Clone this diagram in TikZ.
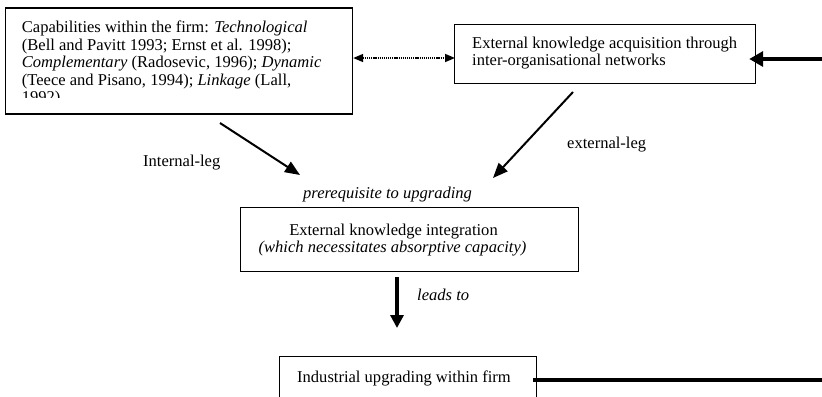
\documentclass[tikz,border=0pt]{standalone}
\usepackage{fontspec}
\setmainfont{Liberation Serif}
\usetikzlibrary{arrows.meta}
\begin{document}
\begin{tikzpicture}[x=1bp,y=-1bp,
  box/.style={draw, line width=1.2bp, inner sep=0pt, anchor=north west},
  txt/.style={inner sep=0pt, font=\fontsize{16.6}{17.6}\selectfont},
  legarrow/.style={line width=2bp, -{Triangle[length=15bp,width=12bp]}},
  downarrow/.style={line width=3.3bp, -{Triangle[length=13bp,width=13bp]}},
  heavyarrow/.style={line width=4.5bp, -{Triangle[length=14bp,width=15bp]}},
  heavyline/.style={line width=4.5bp},
  dotarrow/.style={line width=1.6bp, dash pattern=on 1.2bp off 0.9bp,
    {Triangle[length=10bp,width=8bp]}-{Triangle[length=10bp,width=8bp]}}]
\useasboundingbox (0,0) rectangle (822,396);
\clip (0,0) rectangle (822,396);

% boxes
\node[box, minimum width=347bp, minimum height=106bp] (cap) at (5,7.3) {};
\node[box, minimum width=301bp, minimum height=59bp] (acq) at (454,24) {};
\node[box, minimum width=338bp, minimum height=64bp] (integ) at (240,207) {};
\node[box, minimum width=257bp, minimum height=80bp] (ind) at (279,356) {};

% box 1 text (clipped at bottom)
\begin{scope}
\clip (5,7) rectangle (352,97);
\node[txt, anchor=north west, align=left] (captext) at (21.7,21) {Capabilities within the firm: \textit{Technological}\\
(Bell and Pavitt 1993; Ernst et al. 1998);\\
\textit{Complementary} (Radosevic, 1996); \textit{Dynamic}\\
(Teece and Pisano, 1994); \textit{Linkage} (Lall,\\
1992)};
\end{scope}

% box 2 text
\node[txt, anchor=north west, align=left] (acqtext) at (472,36.7) {External knowledge acquisition through\\
inter-organisational networks};

% box 3 text
\node[txt, anchor=base] (integ1) at (393.5,235.5) {External knowledge integration};
\node[txt, anchor=base] (integ2) at (392.5,252.5) {\textit{(which necessitates absorptive capacity)}};

% box 4 text
\node[txt, anchor=base west] (indtext) at (297,382) {Industrial upgrading within firm};

% labels
\node[txt, anchor=base west] (inleg) at (143,166) {Internal-leg};
\node[txt, anchor=base west] (exleg) at (567,148) {external-leg};
\node[txt, anchor=base west] (prereq) at (303,198) {\textit{prerequisite to upgrading}};
\node[txt, anchor=base west] (leads) at (417,300) {\textit{leads to}};

% coordinates
\coordinate (inS) at (220,123);
\coordinate (inE) at (300,175);
\coordinate (exS) at (573,92);
\coordinate (exE) at (493,178);
\coordinate (dnS) at (397,277);
\coordinate (dnE) at (397,328);
\coordinate (rtA) at (822,59);
\coordinate (rtB) at (822,380);

% connectors
\draw[dotarrow] (cap.east |- 0,58) -- ([xshift=1bp]acq.west |- 0,58);
\draw[heavyarrow] (rtA) -- ([xshift=-7bp]acq.east |- rtA);
\draw[legarrow] (inS) -- (inE);
\draw[legarrow] (exS) -- (exE);
\draw[downarrow] (dnS) -- (dnE);
\draw[heavyline] ([xshift=-4bp]ind.east |- rtB) -- (rtB);
\end{tikzpicture}
\end{document}
